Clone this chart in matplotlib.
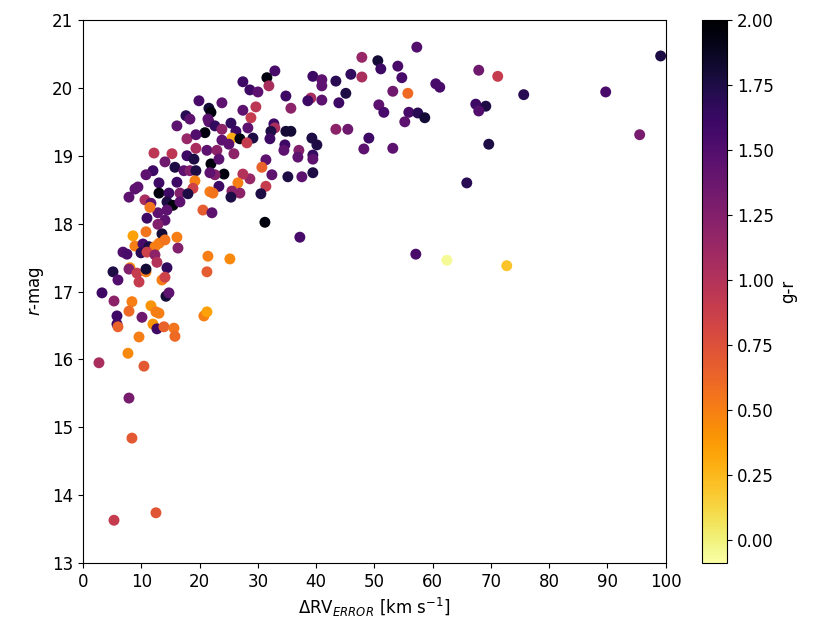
import matplotlib
matplotlib.use("Agg")
import matplotlib.pyplot as plt
import numpy as np

# delta RV error (km/s), r magnitude, g-r colour
rv_err = [2.74, 7.72, 10.46, 7.89, 8.40, 12.52, 5.32, 8.58, 10.81, 13.55,
          16.12, 16.30, 21.44, 25.21, 21.27, 20.58, 22.13, 10.98, 12.86, 14.07,
          12.86, 8.92, 10.29, 11.32, 12.35, 13.04, 14.07, 6.86, 7.55, 9.95,
          10.98, 12.35, 12.69, 8.06, 7.89, 5.15, 6.00, 9.26, 9.61, 10.81,
          10.81, 14.41, 13.55, 14.07, 3.26, 5.32, 8.40, 14.24, 14.75, 11.66,
          7.89, 12.52, 13.04, 10.12, 5.83, 5.83, 6.00, 12.01, 12.69, 13.89,
          15.61, 15.78, 9.61, 20.75, 21.27,
          19.90, 17.67, 18.35, 16.12, 20.93, 21.61, 21.96, 17.84, 19.38, 19.38,
          21.27, 12.18, 15.27, 17.84, 19.04, 14.07, 15.78, 21.96, 12.01, 10.81,
          17.32, 18.35, 19.38, 16.12, 13.04, 19.21, 18.87, 9.43, 8.92, 7.89,
          13.04, 14.75, 16.64, 18.01, 10.63, 11.66, 14.41, 15.44, 16.64, 21.78,
          11.49, 14.41, 23.84, 21.44,
          32.93, 31.56, 31.90, 27.44, 28.64, 30.02, 39.45, 40.99, 40.99, 34.82,
          39.11, 38.59, 40.99, 35.68, 29.67, 27.44, 28.82, 21.61, 25.39, 22.64,
          23.84, 26.24, 28.30, 32.76, 32.93, 32.25, 34.82, 35.68, 25.56, 26.93,
          29.16, 23.84, 25.04, 28.13, 32.08, 34.65, 39.28, 40.14, 22.98, 25.90,
          34.48, 37.05, 36.88, 39.45, 39.45, 23.33, 31.39, 30.70, 32.42, 28.64,
          27.44, 24.19, 22.64, 21.78, 35.16, 37.56, 39.45, 31.39, 26.59, 23.33,
          22.30, 25.56, 26.93, 25.39, 30.53, 31.22, 37.22, 57.12, 62.44, 72.73,
          65.87,
          57.29, 47.86, 50.60, 54.03, 51.11, 45.97, 47.86, 54.72, 43.40, 60.55,
          61.23, 45.11, 53.17, 55.75, 43.91, 50.77, 51.63, 55.92, 57.46, 58.66,
          55.23, 43.40, 45.45, 49.06, 48.20, 53.17,
          67.92, 71.18, 75.64, 89.71, 99.14, 67.41, 69.13, 67.92, 69.64, 95.54]

rmag = [15.95, 16.09, 15.90, 15.43, 14.84, 13.74, 13.63, 17.82, 17.88, 17.85,
        17.80, 17.64, 17.52, 17.48, 17.29, 18.20, 18.16, 18.08, 18.16, 18.05,
        17.99, 17.67, 17.70, 17.66, 17.66, 17.71, 17.76, 17.58, 17.55, 17.57,
        17.58, 17.54, 17.43, 17.35, 17.33, 17.29, 17.17, 17.27, 17.14, 17.29,
        17.33, 17.35, 17.17, 17.21, 16.98, 16.86, 16.85, 16.93, 16.98, 16.79,
        16.71, 16.70, 16.68, 16.62, 16.64, 16.52, 16.48, 16.52, 16.45, 16.48,
        16.46, 16.34, 16.33, 16.64, 16.70,
        19.81, 19.59, 19.54, 19.44, 19.34, 19.70, 19.64, 19.25, 19.31, 19.11,
        19.08, 19.04, 19.03, 19.00, 18.95, 18.91, 18.83, 18.88, 18.78, 18.72,
        18.78, 18.78, 18.78, 18.61, 18.60, 18.63, 18.52, 18.54, 18.51, 18.39,
        18.45, 18.45, 18.45, 18.44, 18.35, 18.30, 18.32, 18.27, 18.32, 18.47,
        18.24, 18.20, 19.78, 19.54,
        20.25, 20.15, 20.03, 20.09, 19.97, 19.94, 20.17, 20.12, 20.03, 19.88,
        19.85, 19.81, 19.82, 19.70, 19.72, 19.67, 19.56, 19.50, 19.48, 19.44,
        19.39, 19.36, 19.41, 19.47, 19.41, 19.36, 19.36, 19.36, 19.26, 19.25,
        19.26, 19.23, 19.17, 19.19, 19.25, 19.16, 19.26, 19.16, 19.08, 19.03,
        19.08, 19.08, 18.98, 19.01, 18.95, 18.95, 18.94, 18.83, 18.72, 18.66,
        18.73, 18.73, 18.72, 18.75, 18.69, 18.69, 18.75, 18.55, 18.60, 18.55,
        18.45, 18.48, 18.45, 18.39, 18.44, 18.02, 17.80, 17.55, 17.46, 17.38,
        18.60,
        20.60, 20.45, 20.40, 20.32, 20.28, 20.20, 20.16, 20.15, 20.10, 20.06,
        20.01, 19.92, 19.95, 19.92, 19.78, 19.75, 19.64, 19.64, 19.63, 19.56,
        19.50, 19.39, 19.39, 19.26, 19.10, 19.11,
        20.26, 20.17, 19.90, 19.94, 20.47, 19.76, 19.73, 19.66, 19.17, 19.31]

g_r = [1.05, 0.45, 0.70, 1.30, 0.70, 0.72, 0.90, 0.35, 0.55, 1.80,
       0.50, 1.25, 0.50, 0.45, 0.68, 0.68, 1.45, 1.60, 1.45, 1.45,
       1.25, 0.50, 1.55, 1.75, 0.50, 0.50, 0.55, 1.50, 1.55, 1.70,
       0.85, 1.20, 1.00, 0.45, 1.25, 1.75, 1.50, 0.90, 0.90, 0.50,
       1.80, 1.65, 0.50, 0.85, 1.60, 1.20, 0.50, 1.80, 1.45, 0.40,
       0.60, 0.50, 0.50, 1.35, 1.60, 1.60, 0.65, 0.40, 1.60, 0.65,
       0.55, 0.60, 0.50, 0.50, 0.35,
       1.55, 1.70, 1.45, 1.45, 1.95, 1.80, 1.95, 1.15, 1.50, 1.05,
       1.45, 0.95, 0.95, 1.60, 1.75, 1.35, 1.75, 1.95, 1.60, 1.45,
       1.45, 1.25, 1.75, 1.60, 1.60, 0.50, 0.85, 1.45, 1.45, 1.45,
       1.95, 1.60, 1.25, 1.75, 1.05, 1.45, 1.75, 1.95, 1.45, 0.50,
       0.55, 1.45, 1.45, 1.45,
       1.55, 1.95, 1.05, 1.60, 1.60, 1.45, 1.60, 1.45, 1.45, 1.60,
       1.05, 1.60, 1.45, 1.20, 0.95, 1.45, 0.90, 1.45, 1.65, 1.65,
       1.20, 1.60, 1.45, 1.60, 1.05, 1.75, 1.80, 1.80, 0.30, 1.95,
       1.75, 1.45, 1.45, 0.90, 1.60, 1.60, 1.75, 1.75, 1.20, 1.20,
       1.45, 1.25, 1.45, 1.65, 1.45, 1.45, 1.45, 0.65, 1.45, 1.15,
       1.00, 1.95, 1.25, 1.45, 1.75, 1.45, 1.75, 0.90, 0.50, 1.60,
       0.55, 1.20, 1.20, 1.75, 1.75, 1.95, 1.55, 1.55, -0.05, 0.20,
       1.70,
       1.50, 1.15, 1.80, 1.55, 1.60, 1.65, 1.05, 1.55, 1.70, 1.55,
       1.55, 1.75, 1.35, 0.60, 1.60, 1.45, 1.55, 1.55, 1.70, 1.80,
       1.45, 1.20, 1.35, 1.60, 1.45, 1.45,
       1.35, 0.90, 1.70, 1.55, 1.75, 1.60, 1.75, 1.50, 1.75, 1.30]

fig = plt.figure(figsize=(8.3, 6.43), dpi=100)
ax = fig.add_axes([0.100, 0.1244, 0.702, 0.8445])
cax = fig.add_axes([0.846, 0.1244, 0.030, 0.8445])

sc = ax.scatter(rv_err, rmag, c=g_r, cmap='inferno_r', vmin=-0.09, vmax=2.0,
                s=62, linewidths=0)
ax.set_xlim(0, 100)
ax.set_ylim(13, 21)
ax.set_xticks(np.arange(0, 101, 10))
ax.set_yticks(np.arange(13, 22, 1))
ax.tick_params(labelsize=12)
ax.set_xlabel(r'$\Delta$RV$_{ERROR}$ [km s$^{-1}$]', fontsize=12)
ax.set_ylabel(r'$r$-mag', fontsize=12)

cb = fig.colorbar(sc, cax=cax)
cb.set_ticks(np.arange(0, 2.01, 0.25))
cb.ax.tick_params(labelsize=12)
cb.set_label('g-r', fontsize=12)

fig.savefig('out.png', dpi=100)
